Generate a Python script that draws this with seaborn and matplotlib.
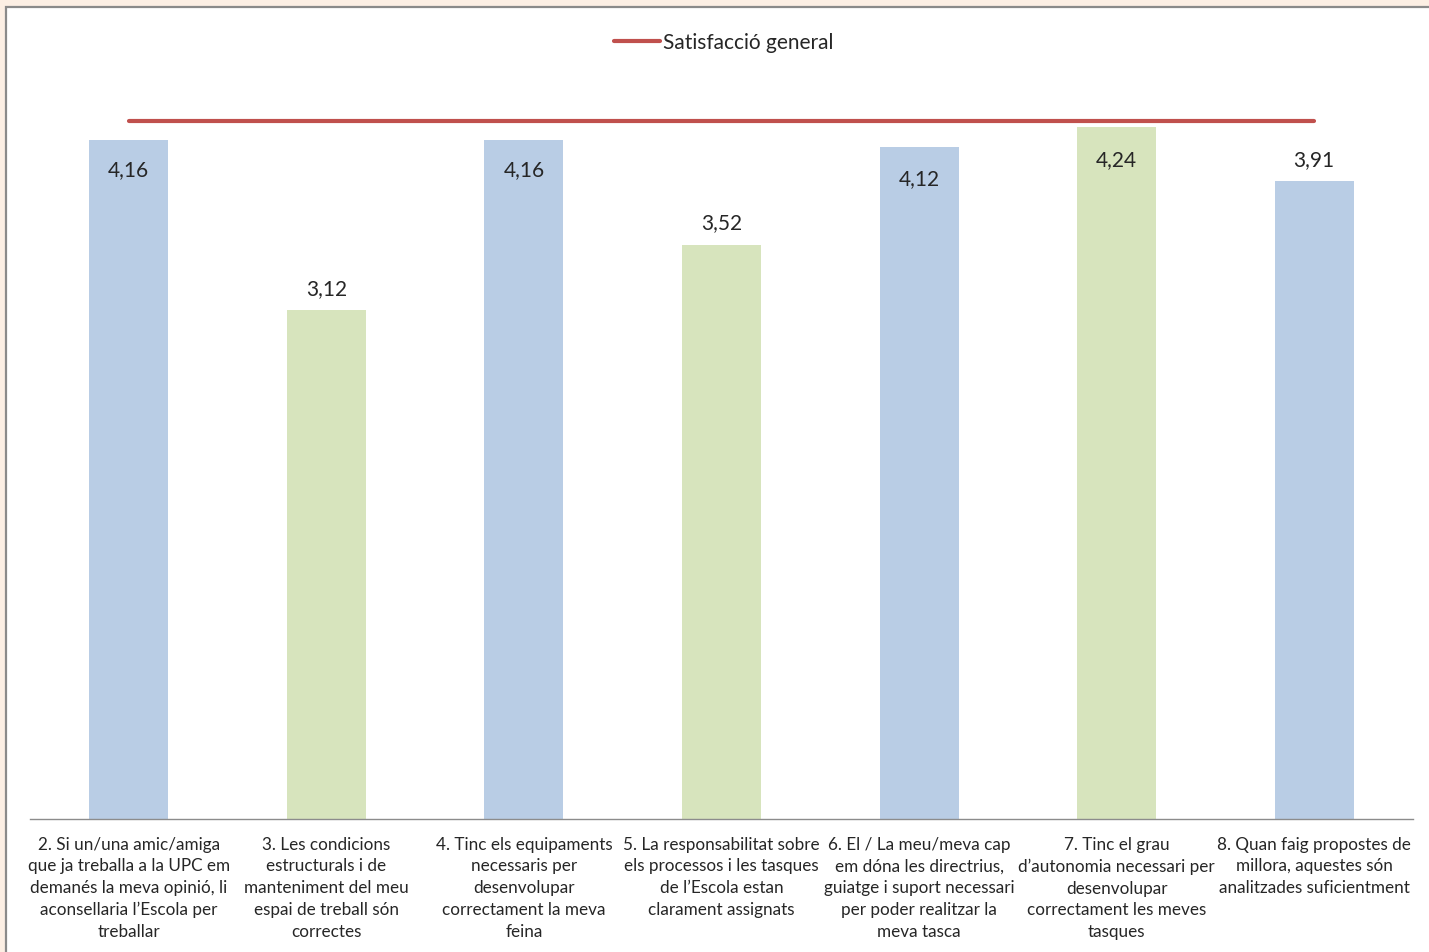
import matplotlib
matplotlib.use("Agg")
import matplotlib.pyplot as plt
from matplotlib.patches import Rectangle
from matplotlib.lines import Line2D
import seaborn as sns
import pandas as pd

# Survey items (x axis) and mean scores
items = [
    "2. Si un/una amic/amiga\nque ja treballa a la UPC em\ndemanés la meva opinió, li\naconsellaria l’Escola per\ntreballar",
    "3. Les condicions\nestructurals i de\nmanteniment del meu\nespai de treball són\ncorrectes",
    "4. Tinc els equipaments\nnecessaris per\ndesenvolupar\ncorrectament la meva\nfeina",
    "5. La responsabilitat sobre\nels processos i les tasques\nde l’Escola estan\nclarament assignats",
    "6. El / La meu/meva cap\nem dóna les directrius,\nguiatge i suport necessari\nper poder realitzar la\nmeva tasca",
    "7. Tinc el grau\nd’autonomia necessari per\ndesenvolupar\ncorrectament les meves\ntasques",
    "8. Quan faig propostes de\nmillora, aquestes són\nanalitzades suficientment",
]
scores = [4.16, 3.12, 4.16, 3.52, 4.12, 4.24, 3.91]
general_satisfaction = 4.28
general_label = "Satisfacció general"

# Styling
bar_colors = ["#B9CDE5", "#D7E4BD", "#B9CDE5", "#D7E4BD", "#B9CDE5", "#D7E4BD", "#B9CDE5"]
label_offsets_pt = [-21, 16, -21, 16, -23, -23, 16]
line_color = "#C0504D"
text_color = "#262626"

sns.set_theme(style="white")
plt.rcParams["font.family"] = ["Lato", "DejaVu Sans"]

W, H = 1429, 953
fig = plt.figure(figsize=(W / 100, H / 100), dpi=100)
fig.patch.set_facecolor("#FCEFE4")
fig.patches.append(Rectangle((5.5 / W, -0.1), 1.2, 1.1 - 7.5 / H,
                             transform=fig.transFigure, facecolor="white",
                             edgecolor="#8a8a8a", linewidth=1.6, zorder=-1))

ax = fig.add_axes([30 / W, 1 - 820 / H, (1413 - 30) / W, 734.4 / H])
ax.set_facecolor("none")

df = pd.DataFrame({"item": items, "score": scores})
sns.barplot(data=df, x="item", y="score", hue="item", palette=bar_colors,
            width=0.4, legend=False, ax=ax, saturation=1, edgecolor="none")

ax.set_xlim(-0.5, len(items) - 0.5)
ax.set_ylim(0, 4.5)

# General satisfaction reference line spanning first to last item
ax.plot([0, len(items) - 1], [general_satisfaction] * 2, color=line_color,
        lw=3.0, solid_capstyle="round", zorder=3)

# Value labels
for i, (v, off) in enumerate(zip(scores, label_offsets_pt)):
    ax.annotate(f"{v:.2f}".replace(".", ","), (i, v), xytext=(0, off),
                textcoords="offset points", ha="center", va="center",
                fontsize=15, color=text_color)

ax.set_xlabel("")
ax.set_ylabel("")
ax.set_yticks([])
ax.set_xticks(range(len(items)))
ax.set_xticklabels(items, fontsize=12.3, color=text_color, linespacing=1.44)
ax.tick_params(axis="x", length=0, pad=12)
for side in ["top", "right", "left"]:
    ax.spines[side].set_visible(False)
ax.spines["bottom"].set_color("#8c8c8c")
ax.spines["bottom"].set_linewidth(1.0)

handle = Line2D([], [], color=line_color, lw=3.0, solid_capstyle="round")
fig.legend([handle], [general_label], loc="center",
           bbox_to_anchor=(724 / W, 1 - 43 / H), frameon=False,
           fontsize=15, handlelength=2.2, handletextpad=0.15,
           labelcolor=text_color)

fig.savefig("out.png", dpi=100, facecolor=fig.get_facecolor())
